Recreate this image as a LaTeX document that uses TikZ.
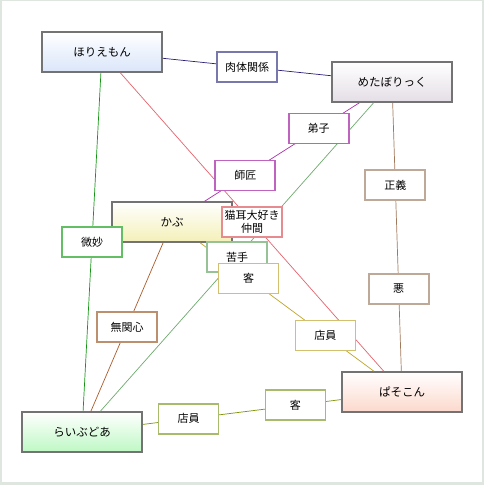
\documentclass[tikz,border=0pt]{standalone}
\usepackage{fontspec}
\setmainfont{Noto Sans CJK JP}
\usetikzlibrary{calc}
\definecolor{framegray}{HTML}{DFE5DF}
% node fills
\definecolor{horiefill}{RGB}{218,230,250}
\definecolor{metabofill}{RGB}{228,222,230}
\definecolor{kabufill}{RGB}{244,240,184}
\definecolor{pasofill}{RGB}{252,216,204}
\definecolor{livefill}{RGB}{190,248,196}
% lines
\definecolor{navyline}{RGB}{40,30,120}
\definecolor{purpleline}{RGB}{170,50,170}
\definecolor{tanline}{RGB}{160,120,90}
\definecolor{redline}{RGB}{230,100,110}
\definecolor{greenline}{RGB}{110,170,110}
\definecolor{darkgreenline}{RGB}{20,150,20}
\definecolor{brownline}{RGB}{170,90,40}
\definecolor{yellowline}{RGB}{190,165,40}
\definecolor{oliveline}{RGB}{130,150,10}
% label borders
\definecolor{navybox}{RGB}{120,120,172}
\definecolor{purplebox}{RGB}{190,100,190}
\definecolor{tanbox}{RGB}{190,168,152}
\definecolor{redbox}{RGB}{230,140,145}
\definecolor{greenbox}{RGB}{150,194,150}
\definecolor{darkgreenbox}{RGB}{100,190,100}
\definecolor{brownbox}{RGB}{188,144,110}
\definecolor{yellowbox}{RGB}{210,192,110}
\definecolor{olivebox}{RGB}{168,186,108}
\tikzset{
  person/.style={draw=black!55, line width=1.6pt, minimum width=120pt, minimum height=40pt,
    top color=white, inner sep=1pt},
  rel/.style={draw=#1, line width=1.7pt, fill=white, minimum width=60pt, minimum height=30pt,
    inner sep=1pt, align=center, font=\fontsize{11}{12.5}\selectfont},
  link/.style={draw=#1, line width=0.7pt}
}
\begin{document}
\begin{tikzpicture}[x=1pt,y=-1pt, every node/.style={font=\fontsize{11.5}{13}\selectfont}]

% Frame
\fill[framegray] (0,0) rectangle (484,485);
\fill[white] (2,1) rectangle (482,482);

% People
\node[person, bottom color=horiefill]  (horie)    at (102,52)  {ほりえもん};
\node[person, bottom color=metabofill] (metabo)   at (392,82)  {めたぼりっく};
\node[person, bottom color=kabufill]   (kabu)     at (172,222) {かぶ};
\node[person, bottom color=pasofill]   (pasokon)  at (402,392) {ぱそこん};
\node[person, bottom color=livefill]   (livedoor) at (82,432)  {らいぶどあ};

% Relations
\draw[link=navyline]      (horie)    -- (metabo);
\draw[link=purpleline]    (metabo)   -- (kabu);
\draw[link=tanline]       (metabo)   -- (pasokon);
\draw[link=redline]       (horie)    -- (pasokon);
\draw[link=greenline]     (metabo)   -- (livedoor);
\draw[link=darkgreenline] (horie)    -- (livedoor);
\draw[link=brownline]     (kabu)     -- (livedoor);
\draw[link=yellowline]    (kabu)     -- (pasokon);
\draw[link=oliveline]     (livedoor) -- (pasokon);

% Labels
\node[rel=navybox]      (nikutai)   at ($(horie)!0.5!(metabo)$)       {肉体関係};
\node[rel=purplebox]    (deshi)     at ($(metabo)!0.333!(kabu)$)      {弟子};
\node[rel=purplebox]    (shisho)    at ($(metabo)!0.667!(kabu)$)      {師匠};
\node[rel=tanbox]       (seigi)     at ($(metabo)!0.333!(pasokon)$)   {正義};
\node[rel=tanbox]       (aku)       at ($(metabo)!0.667!(pasokon)$)   {悪};
\node[rel=darkgreenbox] (bimyo)     at ($(horie)!0.5!(livedoor)$)     {微妙};
\node[rel=brownbox]     (mukanshin) at ($(kabu)!0.5!(livedoor)$)      {無関心};
\node[rel=greenbox]     (nigate)    at ($(metabo)!0.5!(livedoor)$)    {苦手};
\node[rel=redbox, inner sep=0pt] (nekomimi) at ($(horie)!0.5!(pasokon)$) {猫耳大好き\\仲間};
\node[rel=yellowbox]    (kyaku)     at ($(kabu)!0.333!(pasokon)$)     {客};
\node[rel=yellowbox]    (tenin)     at ($(kabu)!0.667!(pasokon)$)     {店員};
\node[rel=olivebox]     (tenin2)    at ($(livedoor)!0.333!(pasokon)$) {店員};
\node[rel=olivebox]     (kyaku2)    at ($(livedoor)!0.667!(pasokon)$) {客};

\end{tikzpicture}
\end{document}
